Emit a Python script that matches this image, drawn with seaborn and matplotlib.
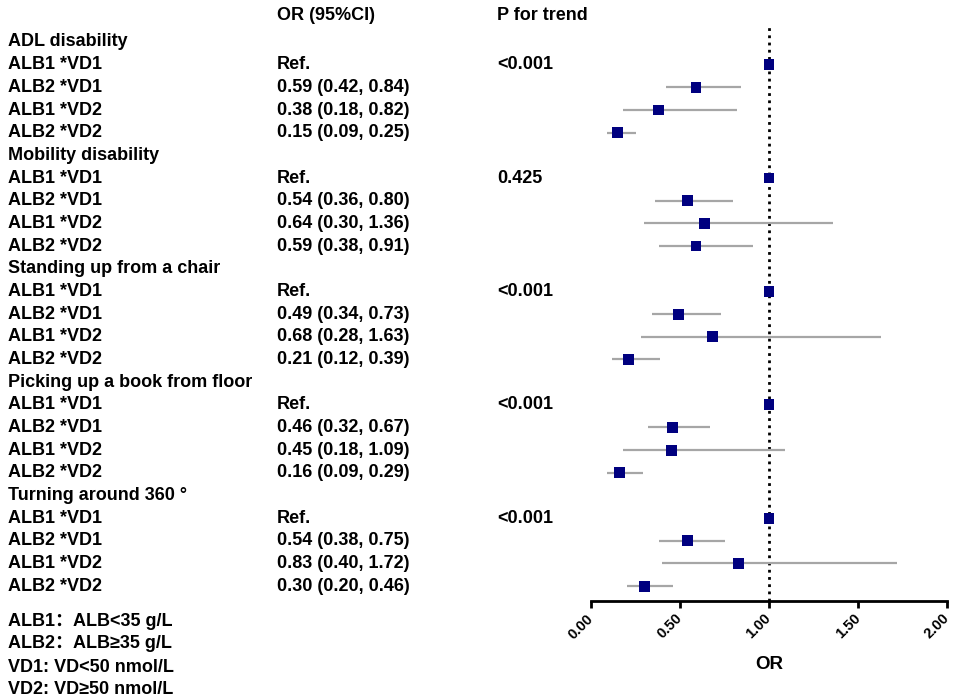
import matplotlib
matplotlib.use("Agg")
import matplotlib.pyplot as plt
import matplotlib.transforms as mtransforms
import numpy as np
import pandas as pd
import seaborn as sns

# ---------------- data ----------------
outcomes = ["ADL disability", "Mobility disability", "Standing up from a chair",
            "Picking up a book from floor", "Turning around 360 °"]
groups = ["ALB1 *VD1", "ALB2 *VD1", "ALB1 *VD2", "ALB2 *VD2"]
p_trend = ["<0.001", "0.425", "<0.001", "<0.001", "<0.001"]

or_vals = [[1.00, 0.59, 0.38, 0.15],
           [1.00, 0.54, 0.64, 0.59],
           [1.00, 0.49, 0.68, 0.21],
           [1.00, 0.46, 0.45, 0.16],
           [1.00, 0.54, 0.83, 0.30]]
ci_low = [[np.nan, 0.42, 0.18, 0.09],
          [np.nan, 0.36, 0.30, 0.38],
          [np.nan, 0.34, 0.28, 0.12],
          [np.nan, 0.32, 0.18, 0.09],
          [np.nan, 0.38, 0.40, 0.20]]
ci_high = [[np.nan, 0.84, 0.82, 0.25],
           [np.nan, 0.80, 1.36, 0.91],
           [np.nan, 0.73, 1.63, 0.39],
           [np.nan, 0.67, 1.09, 0.29],
           [np.nan, 0.75, 1.72, 0.46]]

legend_lines = ["ALB1：ALB<35 g/L", "ALB2：ALB≥35 g/L",
                "VD1: VD<50 nmol/L", "VD2: VD≥50 nmol/L"]
x_ticks = [0.0, 0.5, 1.0, 1.5, 2.0]

# ---------------- table ----------------
rows = []
pos = 0
for i, outc in enumerate(outcomes):
    rows.append(dict(pos=pos, kind="header", label=outc, OR=np.nan, lo=np.nan,
                     hi=np.nan, txt="", p=""))
    pos += 1
    for j, g in enumerate(groups):
        o, l, h = or_vals[i][j], ci_low[i][j], ci_high[i][j]
        txt = "Ref." if np.isnan(l) else f"{o:.2f} ({l:.2f}, {h:.2f})"
        rows.append(dict(pos=pos, kind="row", label=g, OR=o, lo=l, hi=h,
                         txt=txt, p=p_trend[i] if j == 0 else ""))
        pos += 1
df = pd.DataFrame(rows)

# ---------------- style ----------------
sns.set_theme(style="white")
plt.rcParams["font.family"] = ["Liberation Sans", "Noto Sans CJK SC", "DejaVu Sans"]
plt.rcParams["font.weight"] = "bold"
plt.rcParams["text.color"] = "black"
plt.rcParams["axes.labelcolor"] = "black"
plt.rcParams["xtick.color"] = "black"

W, H = 957, 698
fig = plt.figure(figsize=(W / 100, H / 100), dpi=100)
ax = fig.add_axes([591 / W, 1 - 601 / H, (947 - 591) / W, (601 - 24) / H])

step = 22.67
top_px, row0_px, bottom_px = 24, 42, 601
ax.set_ylim((bottom_px - row0_px) / step, (top_px - row0_px) / step)
ax.set_xlim(0, 2)

d = df[df.kind == "row"]
ci = d.dropna(subset=["lo"])
ax.hlines(ci["pos"], ci["lo"], ci["hi"], color="#a6a6a6", lw=1.6, zorder=2)
ax.axvline(1.0, color="black", ls=(0, (1, 1.6)), lw=2, zorder=1)
sns.scatterplot(data=d, x="OR", y="pos", marker="s", s=62, color="#00007f",
                edgecolor="none", ax=ax, zorder=3, legend=False)

for sp in ["left", "right", "top"]:
    ax.spines[sp].set_visible(False)
ax.spines["bottom"].set_color("black")
ax.spines["bottom"].set_linewidth(2)
ax.set_yticks([])
ax.set_ylabel("")
ax.set_xticks(x_ticks)
ax.set_xticklabels([f"{t:.2f}" for t in x_ticks], rotation=45, ha="right",
                   va="center", rotation_mode="anchor", fontsize=10.5,
                   fontweight="bold", color="black")
ax.tick_params(axis="x", direction="out", length=5, width=2, color="black",
               bottom=True, pad=6)
ax.set_xlabel("OR", fontsize=13.5, fontweight="bold", labelpad=10, color="black")

# ---------------- text columns ----------------
tr = mtransforms.blended_transform_factory(fig.transFigure, ax.transData)
fs = 13
hdr_y = (16 - row0_px) / step
kw = dict(transform=tr, fontsize=fs, fontweight="bold", va="center",
          ha="left", color="black")
fig.text(277 / W, hdr_y, "OR (95%CI)", **kw)
fig.text(497 / W, hdr_y, "P for trend", **kw)
for _, r in df.iterrows():
    fig.text(8 / W, r["pos"], r["label"], **kw)
    if r["txt"]:
        fig.text(277 / W, r["pos"], r["txt"], **kw)
    if r["p"]:
        fig.text(497 / W, r["pos"], r["p"], **kw)

leg_y = [621, 644, 667, 689]
for yy, s in zip(leg_y, legend_lines):
    fig.text(8 / W, 1 - yy / H, s, fontsize=fs, fontweight="bold",
             va="center", ha="left", color="black")

fig.savefig("out.png", dpi=100, facecolor="white")
